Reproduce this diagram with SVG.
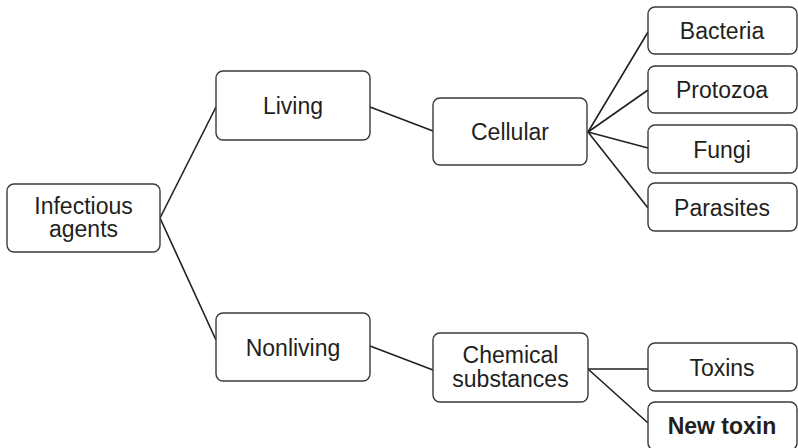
<svg xmlns="http://www.w3.org/2000/svg" width="798" height="448" viewBox="0 0 798 448">
  <style>
    .box { fill: #ffffff; stroke: #3a3a3a; stroke-width: 1.4; }
    .lbl { font-family: "Liberation Sans", Arial, sans-serif; font-size: 23px; fill: #231f20; text-anchor: middle; }
    .bold { font-weight: bold; }
    .edge { stroke: #231f20; stroke-width: 1.6; fill: none; }
  </style>
  <rect width="798" height="448" fill="#ffffff"/>

  <g id="connectors">
    <line class="edge" x1="160" y1="218" x2="216" y2="107"/>
    <line class="edge" x1="160" y1="218" x2="216" y2="340"/>
    <line class="edge" x1="370" y1="107" x2="433" y2="131"/>
    <line class="edge" x1="370" y1="346" x2="433" y2="370"/>
    <line class="edge" x1="588" y1="132" x2="648" y2="32"/>
    <line class="edge" x1="588" y1="132" x2="648" y2="90"/>
    <line class="edge" x1="588" y1="132" x2="648" y2="148"/>
    <line class="edge" x1="588" y1="132" x2="648" y2="208"/>
    <line class="edge" x1="588" y1="369" x2="648" y2="369"/>
    <line class="edge" x1="588" y1="369" x2="648" y2="423"/>
  </g>

  <g id="infectious-agents">
    <rect class="box" x="7" y="184" width="153" height="68" rx="7"/>
    <text class="lbl" x="83.5" y="213.5">Infectious</text>
    <text class="lbl" x="83.5" y="237">agents</text>
  </g>

  <g id="living">
    <rect class="box" x="216" y="71" width="154" height="69" rx="7"/>
    <text class="lbl" x="293" y="114">Living</text>
  </g>

  <g id="nonliving">
    <rect class="box" x="216" y="313" width="154" height="68" rx="7"/>
    <text class="lbl" x="293" y="355.5">Nonliving</text>
  </g>

  <g id="cellular">
    <rect class="box" x="433" y="98" width="154" height="67" rx="7"/>
    <text class="lbl" x="510" y="140">Cellular</text>
  </g>

  <g id="chemical-substances">
    <rect class="box" x="433" y="333" width="155" height="69" rx="7"/>
    <text class="lbl" x="510.5" y="363">Chemical</text>
    <text class="lbl" x="510.5" y="387">substances</text>
  </g>

  <g id="bacteria">
    <rect class="box" x="648" y="7" width="149" height="47" rx="7"/>
    <text class="lbl" x="722" y="39">Bacteria</text>
  </g>

  <g id="protozoa">
    <rect class="box" x="648" y="66" width="149" height="47" rx="7"/>
    <text class="lbl" x="722" y="98">Protozoa</text>
  </g>

  <g id="fungi">
    <rect class="box" x="648" y="125" width="149" height="48" rx="7"/>
    <text class="lbl" x="722" y="157.5">Fungi</text>
  </g>

  <g id="parasites">
    <rect class="box" x="648" y="183" width="149" height="48" rx="7"/>
    <text class="lbl" x="722" y="215.5">Parasites</text>
  </g>

  <g id="toxins">
    <rect class="box" x="648" y="343" width="149" height="48" rx="7"/>
    <text class="lbl" x="722" y="375.5">Toxins</text>
  </g>

  <g id="new-toxin">
    <rect class="box" x="648" y="402" width="149" height="48" rx="7"/>
    <text class="lbl bold" x="722" y="434">New toxin</text>
  </g>
</svg>
